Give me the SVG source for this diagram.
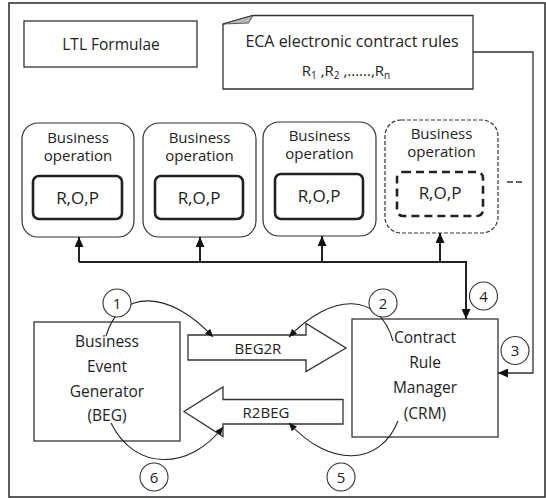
<svg xmlns="http://www.w3.org/2000/svg" width="546" height="498" viewBox="0 0 546 498">
  <style>
    .t { font-family: "Open Sans", "Liberation Sans", sans-serif; fill: #222; text-anchor: middle; }
    .s15 { font-size: 15px; }
    .s155 { font-size: 15.5px; }
    .s17 { font-size: 17px; }
    .box { fill: #fff; stroke: #333; stroke-width: 1.3; }
    .op { fill: #fff; stroke: #333; stroke-width: 1.2; }
    .inner { fill: #fff; stroke: #222; stroke-width: 2.6; }
    .wire { fill: none; stroke: #222; stroke-width: 2; }
    .thin { fill: none; stroke: #333; stroke-width: 1.3; }
    .curve { fill: none; stroke: #222; stroke-width: 1.1; }
    .num { fill: #fff; stroke: #333; stroke-width: 1.1; }
  </style>
  <defs>
    <marker id="head" markerUnits="userSpaceOnUse" markerWidth="10" markerHeight="9" refX="10" refY="4.5" orient="auto">
      <path d="M0,0 L10,4.5 L0,9 Z" fill="#111"/>
    </marker>
    <marker id="headSmall" markerUnits="userSpaceOnUse" markerWidth="8" markerHeight="7" refX="8" refY="3.5" orient="auto">
      <path d="M0,0 L8,3.5 L0,7 Z" fill="#111"/>
    </marker>
  </defs>

  <rect x="0" y="0" width="546" height="498" fill="#fff"/>
  <!-- outer frame -->
  <rect x="9" y="3" width="536" height="494" fill="none" stroke="#333" stroke-width="1.6"/>

  <g id="ltl-formulae">
    <rect class="box" x="24" y="21" width="173" height="46"/>
    <text class="t" style="font-size:15.5px" x="111" y="50">LTL Formulae</text>
  </g>

  <g id="eca-rules">
    <path class="box" d="M223,89 V24 L253,15.5 H473 V89 Z"/>
    <path d="M223,24 L253,15.5 L248.5,23 Z" fill="#bbb" stroke="#333" stroke-width="0.8"/>
    <text class="t" style="font-size:16px" x="352" y="47">ECA electronic contract rules</text>
    <text class="t s15" x="346" y="76">R<tspan dy="3" style="font-size:10px">1</tspan><tspan dy="-3"> ,R</tspan><tspan dy="3" style="font-size:10px">2</tspan><tspan dy="-3"> ,......,R</tspan><tspan dy="3" style="font-size:10px">n</tspan></text>
  </g>

  <g id="op1">
    <rect class="op" x="22" y="123" width="112" height="114" rx="16"/>
    <text class="t s15" x="78" y="143">Business</text>
    <text class="t s15" x="78" y="161">operation</text>
    <rect class="inner" x="33" y="176" width="89" height="43" rx="6"/>
    <text class="t s17" x="77.5" y="204">R,O,P</text>
  </g>

  <g id="op2">
    <rect class="op" x="143" y="123" width="113" height="114" rx="16"/>
    <text class="t s15" x="199.5" y="143">Business</text>
    <text class="t s15" x="199.5" y="161">operation</text>
    <rect class="inner" x="155" y="176" width="88" height="43" rx="6"/>
    <text class="t s17" x="199" y="204">R,O,P</text>
  </g>

  <g id="op3">
    <rect class="op" x="263" y="122" width="113" height="114" rx="16"/>
    <text class="t s15" x="319.5" y="141">Business</text>
    <text class="t s15" x="319.5" y="159">operation</text>
    <rect class="inner" x="275" y="174" width="88" height="45" rx="6"/>
    <text class="t s17" x="319" y="202">R,O,P</text>
  </g>

  <g id="op4">
    <rect class="op" x="385" y="120" width="113" height="113" rx="16" stroke-dasharray="4,2"/>
    <text class="t s15" x="441.5" y="139">Business</text>
    <text class="t s15" x="441.5" y="157">operation</text>
    <rect class="inner" x="397" y="172" width="86" height="44" rx="6" stroke-dasharray="8,5"/>
    <text class="t s17" x="440" y="199">R,O,P</text>
  </g>

  <!-- more operations follow -->
  <line x1="507" y1="182" x2="522" y2="182" stroke="#333" stroke-width="1.3" stroke-dasharray="6,3"/>

  <g id="beg">
    <rect class="box" x="34" y="322" width="146" height="119"/>
    <text class="t s155" x="107" y="347">Business</text>
    <text class="t s155" x="107" y="372">Event</text>
    <text class="t s155" x="107" y="397">Generator</text>
    <text class="t s155" x="107" y="421">(BEG)</text>
  </g>

  <g id="crm">
    <rect class="box" x="352" y="319" width="146" height="118"/>
    <text class="t s155" x="425" y="343">Contract</text>
    <text class="t s155" x="425" y="368">Rule</text>
    <text class="t s155" x="425" y="393">Manager</text>
    <text class="t s155" x="425" y="419">(CRM)</text>
  </g>

  <g id="beg2r">
    <path class="box" d="M188,335 H306 V323.5 L346,348 L306,371.5 V360 H188 Z"/>
    <text class="t s15" x="258" y="354">BEG2R</text>
  </g>

  <g id="r2beg">
    <path class="box" d="M343,399.5 H223 V387 L184,411.5 L223,436.5 V424 H343 Z"/>
    <text class="t s15" x="266" y="418">R2BEG</text>
  </g>

  <g id="connectors">
    <!-- bus from CRM to the business operations -->
    <path class="wire" d="M79,262 H466"/>
    <path class="wire" d="M79,262 V237" marker-end="url(#head)"/>
    <path class="wire" d="M200,262 V237" marker-end="url(#head)"/>
    <path class="wire" d="M322,262 V236" marker-end="url(#head)"/>
    <path class="wire" d="M440,262 V233" marker-end="url(#head)"/>
    <path class="wire" d="M466,261 V319" marker-end="url(#head)"/>
    <!-- rules feed into CRM -->
    <path class="thin" d="M473,52 H533 V373 H498" marker-end="url(#head)"/>
    <!-- event / rule exchange -->
    <path class="curve" d="M106,336 C120,288 170,290 213,337" marker-end="url(#headSmall)"/>
    <path class="curve" d="M393,341 C379,292 332,292 289,337" marker-end="url(#headSmall)"/>
    <path class="curve" d="M398,421 C380,466 330,468 289,423" marker-end="url(#headSmall)"/>
    <path class="curve" d="M111,423 C135,472 190,470 223,427" marker-end="url(#headSmall)"/>
  </g>

  <g id="step1"><circle class="num" cx="117" cy="303" r="14"/><text class="t s15" x="117" y="308.5">1</text></g>
  <g id="step2"><circle class="num" cx="383" cy="303" r="14"/><text class="t s15" x="383" y="308.5">2</text></g>
  <g id="step3"><circle class="num" cx="515" cy="350.5" r="14"/><text class="t s15" x="515" y="356">3</text></g>
  <g id="step4"><circle class="num" cx="483.5" cy="296" r="14"/><text class="t s15" x="483.5" y="301.5">4</text></g>
  <g id="step5"><circle class="num" cx="341" cy="477" r="14"/><text class="t s15" x="341" y="482.5">5</text></g>
  <g id="step6"><circle class="num" cx="154" cy="477" r="14"/><text class="t s15" x="154" y="482.5">6</text></g>
</svg>
